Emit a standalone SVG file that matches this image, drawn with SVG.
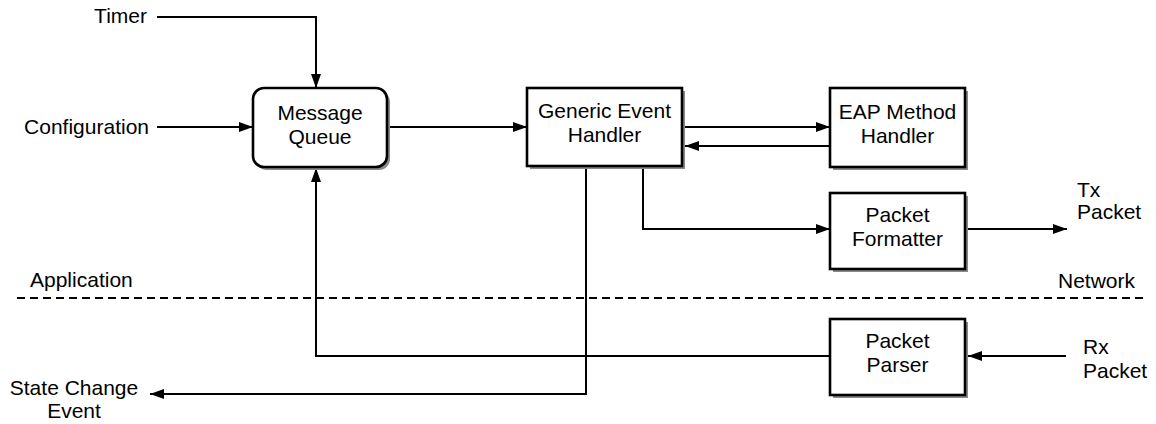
<svg xmlns="http://www.w3.org/2000/svg" width="1156" height="424" viewBox="0 0 1156 424">
  <style>
    .lbl { font-family: "Liberation Sans", Arial, sans-serif; font-size: 21px; fill: #000; }
    .mid { text-anchor: middle; }
    .box { fill: #fff; stroke: #000; stroke-width: 2.6; }
    .shadow { fill: #8a8a8a; }
    .wire { fill: none; stroke: #000; stroke-width: 2; }
    .divider { fill: none; stroke: #000; stroke-width: 2; stroke-dasharray: 8 5; }
  </style>
  <defs>
    <marker id="arrow" viewBox="0 0 14 10" refX="14" refY="5" markerWidth="14" markerHeight="10" markerUnits="userSpaceOnUse" orient="auto">
      <path d="M0,0 L14,5 L0,10 Z" fill="#000"/>
    </marker>
  </defs>
  <rect width="1156" height="424" fill="#fff"/>

  <!-- Application / Network boundary -->
  <line class="divider" x1="17" y1="298" x2="1146" y2="298"/>
  <text class="lbl" x="30" y="287">Application</text>
  <text class="lbl" x="1058" y="288">Network</text>

  <!-- external inputs / outputs -->
  <text class="lbl" x="147" y="23" text-anchor="end">Timer</text>
  <text class="lbl" x="149" y="134" text-anchor="end">Configuration</text>
  <text class="lbl" x="1077" y="197">Tx</text>
  <text class="lbl" x="1077" y="219">Packet</text>
  <text class="lbl" x="1083" y="354">Rx</text>
  <text class="lbl" x="1083" y="378">Packet</text>
  <text class="lbl mid" x="74" y="395">State Change</text>
  <text class="lbl mid" x="74" y="418">Event</text>

  <g id="connectors">
    <polyline class="wire" points="157,17 316,17 316,88" marker-end="url(#arrow)"/>
    <line class="wire" x1="157" y1="127" x2="253" y2="127" marker-end="url(#arrow)"/>
    <line class="wire" x1="388" y1="127" x2="527" y2="127" marker-end="url(#arrow)"/>
    <line class="wire" x1="684" y1="127" x2="830" y2="127" marker-end="url(#arrow)"/>
    <line class="wire" x1="830" y1="146" x2="685" y2="146" marker-end="url(#arrow)"/>
    <polyline class="wire" points="643,167 643,229 830,229" marker-end="url(#arrow)"/>
    <line class="wire" x1="968" y1="229" x2="1067" y2="229" marker-end="url(#arrow)"/>
    <line class="wire" x1="1066" y1="356" x2="968" y2="356" marker-end="url(#arrow)"/>
    <polyline class="wire" points="830,356 316,356 316,168" marker-end="url(#arrow)"/>
    <polyline class="wire" points="586,167 586,394 150,394" marker-end="url(#arrow)"/>
  </g>

  <g id="message-queue">
    <rect class="shadow" x="256" y="91" width="134" height="79" rx="11"/>
    <rect class="box" x="253" y="88" width="134" height="79" rx="11"/>
    <text class="lbl mid" x="320" y="120">Message</text>
    <text class="lbl mid" x="320" y="144">Queue</text>
  </g>

  <g id="generic-event-handler">
    <rect class="shadow" x="530" y="91" width="155" height="78"/>
    <rect class="box" x="527" y="88" width="155" height="78"/>
    <text class="lbl mid" x="604.5" y="118">Generic Event</text>
    <text class="lbl mid" x="604.5" y="142">Handler</text>
  </g>

  <g id="eap-method-handler">
    <rect class="shadow" x="833" y="91" width="135" height="79"/>
    <rect class="box" x="830" y="88" width="135" height="79"/>
    <text class="lbl mid" x="897.5" y="119">EAP Method</text>
    <text class="lbl mid" x="897.5" y="143">Handler</text>
  </g>

  <g id="packet-formatter">
    <rect class="shadow" x="833" y="196" width="135" height="76"/>
    <rect class="box" x="830" y="193" width="135" height="76"/>
    <text class="lbl mid" x="897.5" y="222">Packet</text>
    <text class="lbl mid" x="897.5" y="246">Formatter</text>
  </g>

  <g id="packet-parser">
    <rect class="shadow" x="833" y="322" width="135" height="76"/>
    <rect class="box" x="830" y="319" width="135" height="76"/>
    <text class="lbl mid" x="897.5" y="348">Packet</text>
    <text class="lbl mid" x="897.5" y="372">Parser</text>
  </g>
</svg>
